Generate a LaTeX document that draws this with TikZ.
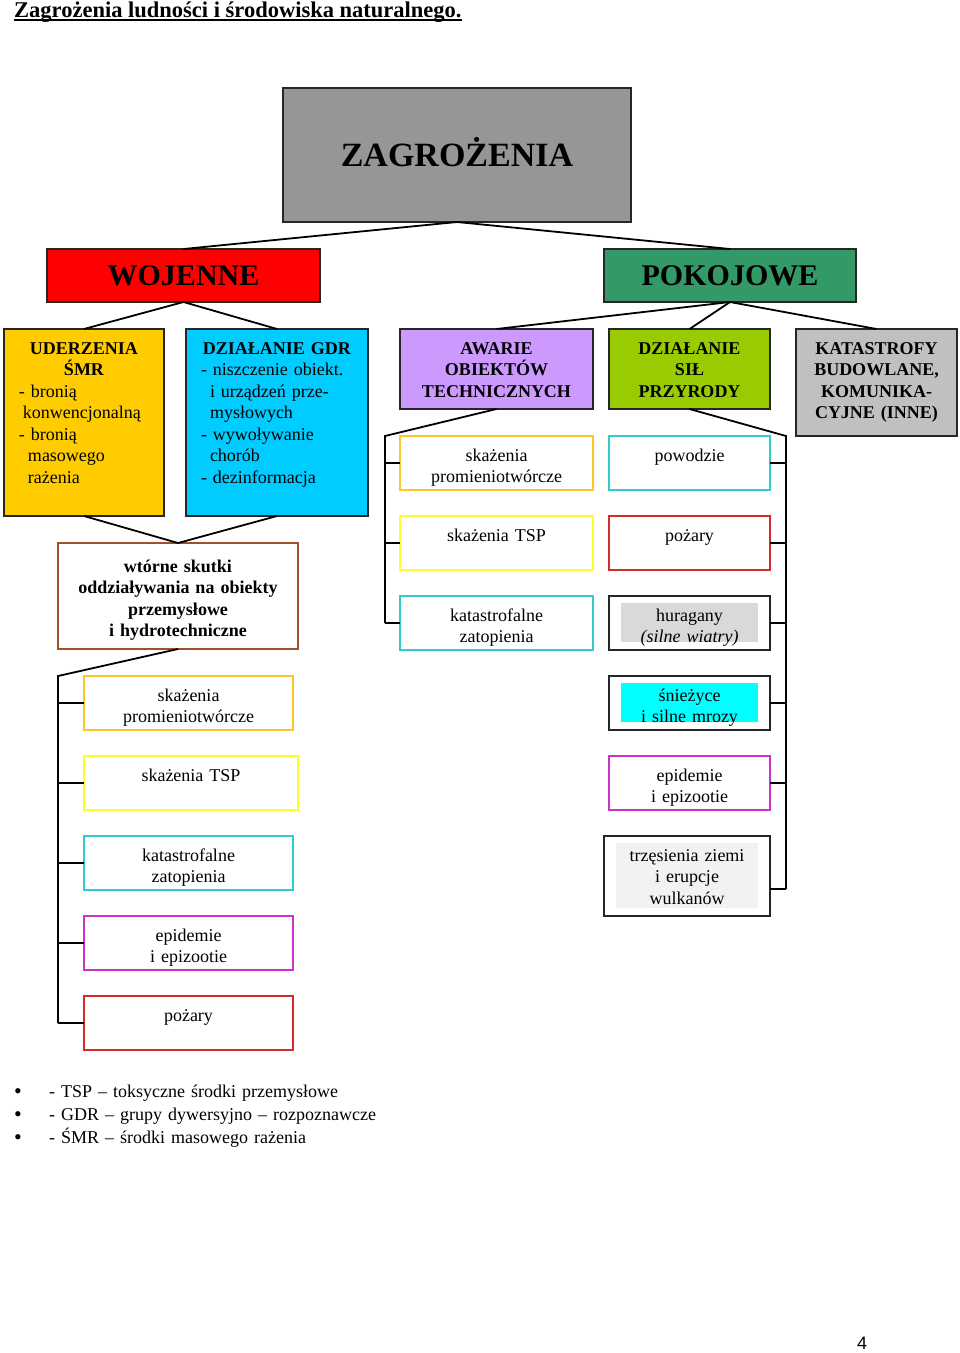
\documentclass[tikz,border=0pt]{standalone}
\usepackage{fontspec}
\setmainfont{Liberation Serif}
\newfontfamily\pagenofont{Liberation Sans}
\usepackage{tikz}
\usetikzlibrary{positioning}
\usepackage{xcolor}
\definecolor{zaggray}{RGB}{150,150,150}
\definecolor{warred}{RGB}{255,0,0}
\definecolor{peacegreen}{RGB}{51,153,102}
\definecolor{smrgold}{RGB}{255,204,0}
\definecolor{gdrblue}{RGB}{0,204,255}
\definecolor{techviolet}{RGB}{204,153,255}
\definecolor{natgreen}{RGB}{153,204,0}
\definecolor{othergray}{RGB}{192,192,192}
\definecolor{edgegold}{RGB}{255,196,40}
\definecolor{edgeyellow}{RGB}{255,255,40}
\definecolor{edgeteal}{RGB}{51,204,204}
\definecolor{edgemagenta}{RGB}{204,51,204}
\definecolor{edgered}{RGB}{210,45,45}
\definecolor{edgebrown}{RGB}{160,80,45}
\definecolor{hlgray}{RGB}{217,217,217}
\definecolor{hlcyan}{RGB}{0,255,255}
\definecolor{hllight}{RGB}{242,242,242}
\tikzset{
  box/.style={rectangle, draw=black!85, line width=1.5pt, outer sep=0pt,
              inner xsep=0pt, inner ysep=0pt, text width=#1, align=center,
              text height=25pt, text depth=29pt, font=\fontsize{18}{21.5}\selectfont},
  headbox/.style={box=#1, font=\fontsize{18}{21.5}\selectfont\bfseries},
  titlebox/.style={rectangle, draw=black!85, line width=1.5pt, outer sep=0pt,
                   font=\fontsize{30}{32}\selectfont\bfseries, text height=20pt, text depth=0pt},
  hilite/.style={path picture={\fill[#1]
      ([shift={(12pt,-7pt)}]path picture bounding box.north west) rectangle
      ([shift={(-12pt,8pt)}]path picture bounding box.south east);}},
  link/.style={line width=1.8pt},
}
\newcommand{\legbullet}{\makebox[35pt][l]{\fontsize{22}{20}\selectfont\raisebox{-1.5pt}{\textbullet}}}

\begin{document}
\begin{tikzpicture}[x=1pt, y=-1pt, node distance=26pt]
\useasboundingbox (0,0) rectangle (960,1353);

% title
\node[anchor=base west, inner sep=0pt, font=\fontsize{22.5}{24}\selectfont\bfseries] (title) at (14,17)
  {Zagrożenia ludności i środowiska naturalnego.};
\draw[line width=1.4pt] ([yshift=-3pt]title.base west) -- ([yshift=-3pt]title.base east);

% top levels
\node[titlebox, fill=zaggray, minimum width=348pt, minimum height=134pt,
      font=\fontsize{34}{36}\selectfont\bfseries, text height=22.5pt, anchor=north west] (zag) at (283,88) {ZAGROŻENIA};
\node[titlebox, fill=warred, minimum width=273pt, minimum height=53pt, anchor=north west] (woj) at (47,249) {WOJENNE};
\node[titlebox, fill=peacegreen, minimum width=252pt, minimum height=53pt, anchor=north west] (pok) at (604,249) {POKOJOWE};

% second level
\node[box=160pt, fill=smrgold, align=left, text depth=162pt, anchor=north west] (smr) at (4,329)
  {\makebox[\linewidth]{\bfseries UDERZENIA}\\
   \makebox[\linewidth]{\bfseries ŚMR}\\
   \hspace*{15pt}- bronią\\
   \hspace*{19pt}konwencjonalną\\
   \hspace*{15pt}- bronią\\
   \hspace*{24pt}masowego\\
   \hspace*{24pt}rażenia};
\node[box=182pt, fill=gdrblue, align=left, text depth=162pt, anchor=north west] (gdr) at (186,329)
  {\makebox[\linewidth]{\bfseries DZIAŁANIE GDR}\\
   \hspace*{15pt}- niszczenie obiekt.\\
   \hspace*{24pt}i urządzeń prze-\\
   \hspace*{24pt}mysłowych\\
   \hspace*{15pt}- wywoływanie\\
   \hspace*{24pt}chorób\\
   \hspace*{15pt}- dezinformacja};
\node[headbox=193pt, fill=techviolet, text depth=55pt, anchor=north west] (tech) at (400,329)
  {AWARIE\\OBIEKTÓW\\TECHNICZNYCH};
\node[headbox=161pt, fill=natgreen, text depth=55pt, anchor=north west] (nat) at (609,329)
  {DZIAŁANIE\\SIŁ\\PRZYRODY};
\node[headbox=161pt, fill=othergray, text depth=82pt, anchor=north west] (inne) at (796,329)
  {KATASTROFY\\BUDOWLANE,\\KOMUNIKA-\\CYJNE (INNE)};
\node[headbox=240pt, draw=edgebrown, text height=29pt, text depth=77pt, anchor=north west] (wtorne) at (58,543)
  {wtórne skutki\\oddziaływania na obiekty\\przemysłowe\\i hydrotechniczne};

% technical failures
\node[box=193pt, draw=edgegold, anchor=north west] (mskaz) at (400,436) {skażenia\\promieniotwórcze};
\node[box=193pt, draw=edgeyellow, below=of mskaz] (mtsp) {skażenia TSP};
\node[box=193pt, draw=edgeteal, below=of mtsp] (mzatop) {katastrofalne\\zatopienia};

% forces of nature
\node[box=161pt, draw=edgeteal, anchor=north west] (rpow) at (609,436) {powodzie};
\node[box=161pt, draw=edgered, below=of rpow] (rpoz) {pożary};
\node[box=161pt, hilite=hlgray, below=of rpoz] (rhur) {huragany\\\textit{(silne wiatry)}};
\node[box=161pt, hilite=hlcyan, below=of rhur] (rsniez) {śnieżyce\\i silne mrozy};
\node[box=161pt, draw=edgemagenta, below=of rsniez] (repid) {epidemie\\i epizootie};
\node[box=166pt, hilite=hllight, text depth=55pt, below=of repid, xshift=-2.5pt] (rtrz)
  {trzęsienia ziemi\\i erupcje\\wulkanów};

% secondary effects
\node[box=209pt, draw=edgegold, anchor=north west] (lskaz) at (84,676) {skażenia\\promieniotwórcze};
\node[box=214pt, draw=edgeyellow, below=of lskaz, xshift=2.5pt] (ltsp) {skażenia TSP};
\node[box=209pt, draw=edgeteal, below=of ltsp, xshift=-2.5pt] (lzatop) {katastrofalne\\zatopienia};
\node[box=209pt, draw=edgemagenta, below=of lzatop] (lepid) {epidemie\\i epizootie};
\node[box=209pt, draw=edgered, below=of lepid] (lpoz) {pożary};

% connectors
\draw[link] (zag.south) -- (woj.north);
\draw[link] (zag.south) -- (pok.north);
\draw[link] (woj.south) -- (smr.north);
\draw[link] (woj.south) -- (gdr.north);
\draw[link] (pok.south) -- (tech.north);
\draw[link] (pok.south) -- (nat.north);
\draw[link] (pok.south) -- (inne.north);
\draw[link] (smr.south) -- (wtorne.north);
\draw[link] (gdr.south) -- (wtorne.north);

\coordinate (lspine) at (58,676);
\coordinate (mspine) at (385,436);
\coordinate (rspine) at (786,436);
\coordinate (rend) at ([yshift=-13pt]rtrz.east);

\draw[link] (wtorne.south) -- (lspine) -- (lspine |- lpoz.west);
\foreach \n in {lskaz,ltsp,lzatop,lepid,lpoz}
  \draw[link] (lspine |- \n.west) -- (\n.west);
\draw[link] (tech.south) -- (mspine) -- (mspine |- mzatop.west);
\foreach \n in {mskaz,mtsp,mzatop}
  \draw[link] (mspine |- \n.west) -- (\n.west);
\draw[link] (nat.south) -- (rspine) -- (rspine |- rend);
\foreach \n in {rpow,rpoz,rhur,rsniez,repid}
  \draw[link] (\n.east) -- (rspine |- \n.east);
\draw[link] (rend) -- (rspine |- rend);

% legend
\node[anchor=base west, inner sep=0pt, text width=420pt, align=left, font=\fontsize{18}{23}\selectfont] (legend) at (14,1097)
  {\legbullet- TSP – toksyczne środki przemysłowe\\
   \legbullet- GDR – grupy dywersyjno – rozpoznawcze\\
   \legbullet- ŚMR – środki masowego rażenia};

\node[anchor=base, inner sep=0pt, font=\pagenofont\fontsize{18}{20}\selectfont] (pageno) at (862,1349) {4};
\end{tikzpicture}
\end{document}
